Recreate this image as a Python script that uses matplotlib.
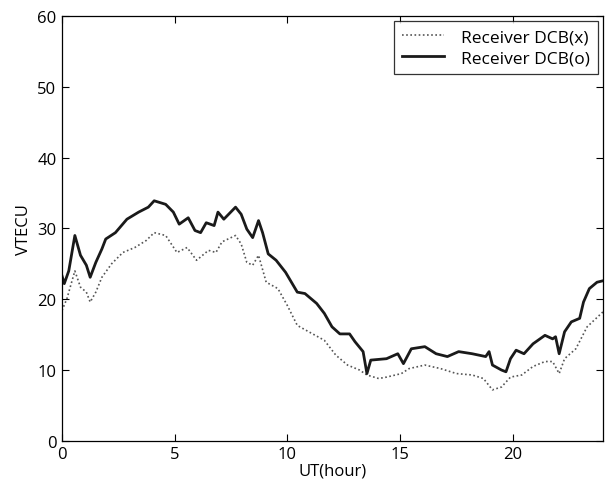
import matplotlib
matplotlib.use("Agg")
import matplotlib.pyplot as plt

hours_o = [0.0, 0.1, 0.3, 0.57, 0.82, 1.08, 1.25, 1.5, 1.77, 1.94, 2.37, 2.88, 3.4, 3.83, 4.09,
           4.6, 4.94, 5.2, 5.6, 5.9, 6.15, 6.4, 6.75, 6.92, 7.18, 7.7, 7.95, 8.2, 8.46, 8.72,
           8.9, 9.15, 9.5, 9.92, 10.44, 10.78, 11.3, 11.64, 11.98, 12.33, 12.76, 13.0, 13.36,
           13.53, 13.7, 14.4, 14.9, 15.15, 15.5, 16.1, 16.6, 17.1, 17.6, 18.2, 18.8, 18.95,
           19.1, 19.5, 19.7, 19.9, 20.15, 20.5, 20.9, 21.43, 21.77, 21.9, 22.06, 22.3, 22.6,
           22.97, 23.14, 23.4, 23.74, 24.0]
vtec_o = [23.3, 22.2, 24.0, 29.0, 26.2, 24.8, 23.1, 25.2, 27.1, 28.5, 29.4, 31.3, 32.3, 33.0, 33.9,
          33.4, 32.3, 30.6, 31.5, 29.7, 29.4, 30.8, 30.4, 32.3, 31.3, 33.0, 32.0, 29.9, 28.7, 31.1,
          29.4, 26.4, 25.5, 23.8, 21.0, 20.8, 19.4, 18.0, 16.1, 15.1, 15.1, 14.0, 12.6,
          9.5, 11.4, 11.6, 12.3, 10.9, 13.0, 13.3, 12.3, 11.9, 12.6, 12.3, 11.9, 12.6,
          10.7, 10.0, 9.75, 11.6, 12.8, 12.3, 13.7, 14.9, 14.4, 14.7, 12.3, 15.4, 16.8,
          17.3, 19.6, 21.5, 22.4, 22.6]

hours_x = [0.0, 0.22, 0.57, 0.82, 1.08, 1.25, 1.5, 1.77, 2.2, 2.7, 3.23, 3.74, 4.09, 4.6, 5.1,
           5.55, 5.97, 6.5, 6.83, 7.1, 7.7, 7.95, 8.2, 8.46, 8.72, 9.06, 9.58, 10.0, 10.44,
           10.95, 11.64, 12.15, 12.67, 13.2, 13.53, 14.05, 14.4, 15.06, 15.4, 16.1, 16.8, 17.5,
           18.2, 18.7, 19.1, 19.5, 19.9, 20.4, 20.9, 21.43, 21.77, 22.06, 22.3, 22.8, 23.3, 24.0]
vtec_x = [18.4, 20.1, 24.0, 21.7, 21.0, 19.6, 21.0, 23.1, 25.0, 26.6, 27.3, 28.3, 29.4, 29.0, 26.6,
          27.3, 25.5, 26.9, 26.6, 28.1, 29.0, 27.8, 25.2, 24.8, 26.2, 22.4, 21.5, 19.1, 16.3,
          15.4, 14.2, 12.1, 10.7, 10.0, 9.3, 8.8, 9.0, 9.5, 10.2, 10.7, 10.2, 9.5,
          9.3, 8.8, 7.2, 7.6, 9.0, 9.3, 10.5, 11.2, 11.2, 9.5, 11.6, 13.0, 16.1, 18.2]

x_ticks = [0, 5, 10, 15, 20]
y_ticks = [0, 10, 20, 30, 40, 50, 60]

plt.rcParams['font.family'] = ['Open Sans', 'DejaVu Sans']
fig = plt.figure(figsize=(6.05, 4.85), dpi=100)
ax = fig.add_axes([0.1025, 0.089, 0.894, 0.876])

ax.plot(hours_x, vtec_x, linestyle=(0, (1, 1.5)), color='#555555', linewidth=1.2,
        label='Receiver DCB(x)')
ax.plot(hours_o, vtec_o, linestyle='-', color='#1a1a1a', linewidth=2.0,
        label='Receiver DCB(o)')

ax.set_xlim(0, 24)
ax.set_ylim(0, 60)
ax.set_xticks(x_ticks)
ax.set_yticks(y_ticks)
ax.tick_params(direction='in', top=True, right=True, labelsize=12, length=5, pad=4)
for s in ax.spines.values():
    s.set_linewidth(0.9)
ax.set_xlabel('UT(hour)', fontsize=12, labelpad=0)
ax.set_ylabel('VTECU', fontsize=12, labelpad=4)

leg = ax.legend(loc='upper right', fontsize=12.5, frameon=True, fancybox=False,
                edgecolor='black', borderaxespad=0.3, handlelength=2.4,
                handletextpad=1.0, borderpad=0.45, labelspacing=0.3)
leg.get_frame().set_linewidth(0.9)

fig.savefig('out.png', dpi=100)
